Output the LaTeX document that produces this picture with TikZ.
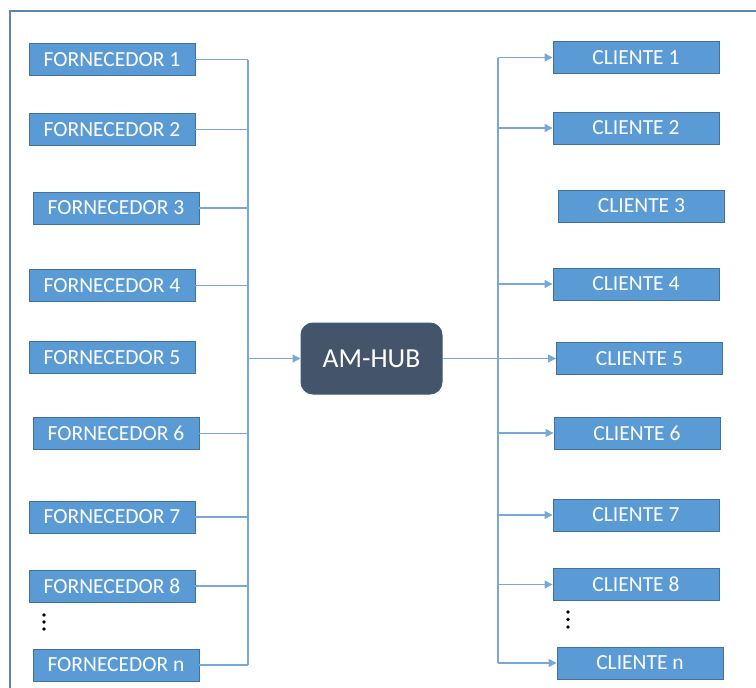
\documentclass[tikz,border=0pt]{standalone}
\usepackage{fontspec}
\setmainfont{Carlito}
\usetikzlibrary{arrows.meta}
\definecolor{boxfill}{HTML}{5B9BD5}
\definecolor{boxline}{HTML}{41719C}
\definecolor{hubfill}{HTML}{44546A}
\definecolor{hubline}{HTML}{3E5B7D}
\definecolor{wire}{HTML}{7AA7DA}
\definecolor{framecol}{HTML}{5F84AC}
\tikzset{
  party/.style={draw=boxline, line width=0.9pt, fill=boxfill, text=white,
    minimum width=166pt, minimum height=32pt, inner sep=0pt,
    font=\fontsize{21.5}{24}\selectfont},
  hubbox/.style={draw=hubline, line width=1pt, fill=hubfill, text=white,
    rounded corners=12pt, minimum width=141pt, minimum height=71pt,
    inner sep=0pt, font=\fontsize{27.5}{30}\selectfont},
  wireline/.style={draw=wire, line width=1.3pt},
  feed/.style={wireline, -{Triangle[length=8pt,width=8pt]}},
  dotmark/.style={circle, fill=black, inner sep=0pt, minimum size=3.6pt},
}
\begin{document}
\begin{tikzpicture}[x=1pt, y=-1pt]
\useasboundingbox (0,0) rectangle (756,688);
% outer frame (runs past the right and bottom edges)
\draw[framecol, line width=1.4pt] (10,688) -- (10,11) -- (756,11);

% suppliers
\node[party] (f1) at (112,59.5)  {FORNECEDOR 1};
\node[party] (f2) at (112,129.5) {FORNECEDOR 2};
\node[party] (f3) at (116,208)   {FORNECEDOR 3};
\node[party] (f4) at (112,285.5) {FORNECEDOR 4};
\node[party] (f5) at (112,357.5) {FORNECEDOR 5};
\node[party] (f6) at (116,433.5) {FORNECEDOR 6};
\node[party] (f7) at (112,517)   {FORNECEDOR 7};
\node[party] (f8) at (112,586)   {FORNECEDOR 8};
\node[party] (fn) at (116,665)   {FORNECEDOR n};

% hub
\node[hubbox] (hub) at (371.5,358.5) {AM-HUB};

% clients
\node[party] (c1) at (636,57.5)   {CLIENTE 1};
\node[party] (c2) at (636,128)    {CLIENTE 2};
\node[party] (c3) at (641.5,206)  {CLIENTE 3};
\node[party] (c4) at (636,284)    {CLIENTE 4};
\node[party] (c5) at (639.5,358.5){CLIENTE 5};
\node[party] (c6) at (637,433)    {CLIENTE 6};
\node[party] (c7) at (636,515)    {CLIENTE 7};
\node[party] (c8) at (636,584.5)  {CLIENTE 8};
\node[party] (cn) at (640,663)    {CLIENTE n};

% bus junctions
\coordinate (bl) at (248,358.5);
\coordinate (br) at (498,358.5);

% supplier side: stubs into the collecting bus, then into the hub
\draw[wireline] (f1.east -| bl) -- (fn.east -| bl);
\foreach \s in {f1,f2,f3,f4,f6,f7,f8,fn}
  \draw[wireline] (\s.east) -- (\s.east -| bl);
\draw[feed] (bl) -- (hub.west);

% client side: hub out to the distribution bus, then to each client
\draw[wireline] (hub.east) -- (br);
\draw[wireline] (c1.west -| br) -- (cn.west -| br);
\foreach \c in {c1,c2,c4,c5,c6,c7,c8,cn}
  \draw[feed] (\c.west -| br) -- (\c.west);

% continuation marks
\node[dotmark] (dl1) at (44,615) {};
\node[dotmark] (dl2) at (44,622) {};
\node[dotmark] (dl3) at (44,629) {};
\node[dotmark] (dr1) at (568,612) {};
\node[dotmark] (dr2) at (568,619.5) {};
\node[dotmark] (dr3) at (568,627) {};
\end{tikzpicture}
\end{document}
